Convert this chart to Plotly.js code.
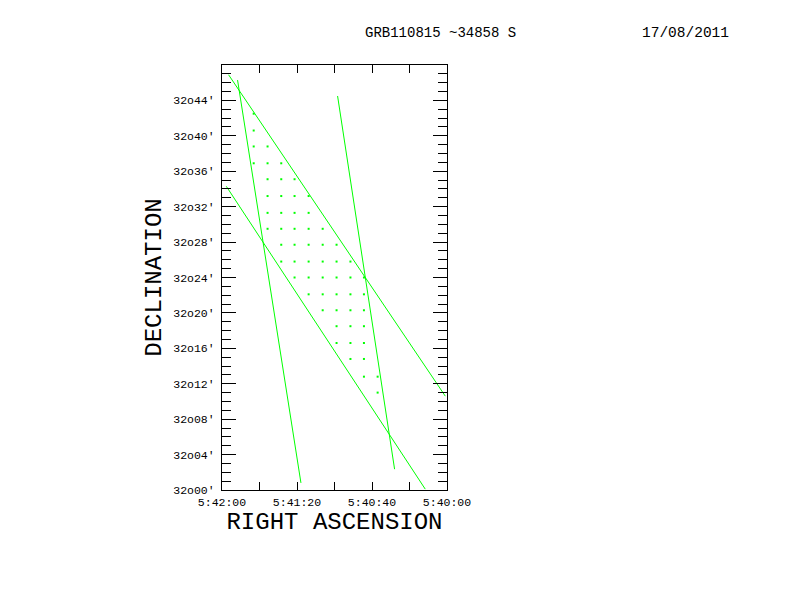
<!DOCTYPE html>
<html>
<head>
<meta charset="utf-8">
<script src="https://cdn.plot.ly/plotly-3.0.1.min.js"></script>
<style>html,body{margin:0;padding:0;background:#fff;}#chart{width:792px;height:612px;}</style>
</head>
<body>
<div id="chart"></div>
<script>
// RA expressed in seconds of time (5h42m00s = 20520 s), Dec in arcmin above 32°00'
const lineA_ra = [20511.7, 20477.9];
const lineA_dec = [46.3, 0.8];
const lineB_ra = [20458.35, 20427.95];
const lineB_dec = [44.5, 2.35];
const lineC_ra = [20516.5, 20400.9];
const lineC_dec = [46.9, 10.6];
const lineD_ra = [20517.7, 20411.6];
const lineD_dec = [34.3, 0.1];

const dotRA = [
  20503.1,
  20503.1,
  20503.1, 20495.7,
  20503.1, 20495.7, 20488.4,
  20495.7, 20488.4, 20481.3,
  20495.7, 20488.4, 20481.3, 20473.8,
  20495.7, 20488.4, 20481.3, 20473.8,
  20495.7, 20488.4, 20481.3, 20473.8, 20466.3,
  20488.4, 20481.3, 20473.8, 20466.3, 20458.9,
  20488.4, 20481.3, 20473.8, 20466.3, 20458.9, 20451.5,
  20481.3, 20473.8, 20466.3, 20458.9, 20451.5, 20444.3,
  20473.8, 20466.3, 20458.9, 20451.5, 20444.3,
  20466.3, 20458.9, 20451.5, 20444.3,
  20458.9, 20451.5, 20444.3,
  20458.9, 20451.5, 20444.3,
  20451.5, 20444.3,
  20444.3, 20437.0,
  20437.0
];
const dotDec = [
  42.5,
  40.6,
  38.8, 38.8,
  36.9, 36.9, 36.9,
  35.1, 35.1, 35.1,
  33.2, 33.2, 33.2, 33.2,
  31.3, 31.3, 31.3, 31.3,
  29.5, 29.5, 29.5, 29.5, 29.5,
  27.7, 27.7, 27.7, 27.7, 27.7,
  25.8, 25.8, 25.8, 25.8, 25.8, 25.8,
  24.0, 24.0, 24.0, 24.0, 24.0, 24.0,
  22.1, 22.1, 22.1, 22.1, 22.1,
  20.3, 20.3, 20.3, 20.3,
  18.5, 18.5, 18.5,
  16.6, 16.6, 16.6,
  14.8, 14.8,
  12.8, 12.8,
  11.0
];

const xTickVals = [20520, 20500, 20480, 20460, 20440, 20420, 20400];
const xTickText = ['5:42:00', '', '5:41:20', '', '5:40:40', '', '5:40:00'];
const yTickVals = [0, 4, 8, 12, 16, 20, 24, 28, 32, 36, 40, 44];
const yTickText = ["32o00′", "32o04′", "32o08′", "32o12′", "32o16′", "32o20′", "32o24′", "32o28′", "32o32′", "32o36′", "32o40′", "32o44′"];

const green = '#00ff00';
const font = 'Liberation Mono, DejaVu Sans Mono, monospace';

function lineTrace(x, y) {
  return {x: x, y: y, type: 'scatter', mode: 'lines', line: {color: green, width: 1}, hoverinfo: 'skip', showlegend: false};
}

const traces = [
  lineTrace(lineA_ra, lineA_dec),
  lineTrace(lineB_ra, lineB_dec),
  lineTrace(lineC_ra, lineC_dec),
  lineTrace(lineD_ra, lineD_dec),
  {x: dotRA, y: dotDec, type: 'scatter', mode: 'markers',
   marker: {color: green, size: 2, symbol: 'square', line: {width: 0}}, showlegend: false}
];

const layout = {
  width: 792, height: 612,
  paper_bgcolor: '#ffffff', plot_bgcolor: '#ffffff',
  margin: {l: 222, r: 345, t: 65, b: 122, pad: 0},
  showlegend: false,
  font: {family: font, color: '#000'},
  xaxis: {
    range: [20520, 20400],
    tickmode: 'array', tickvals: xTickVals, ticktext: xTickText,
    ticks: 'inside', ticklen: 8, tickwidth: 1, tickcolor: '#000',
    ticklabelstandoff: 1,
    showline: true, linecolor: '#000', linewidth: 1, mirror: 'allticks',
    showgrid: false, zeroline: false,
    tickfont: {family: font, size: 11.5, color: '#000'},
    title: {text: 'RIGHT ASCENSION', font: {family: font, size: 24, color: '#000'}, standoff: 0}
  },
  yaxis: {
    range: [0, 48],
    tickmode: 'array', tickvals: yTickVals, ticktext: yTickText,
    ticks: 'inside', ticklen: 14, tickwidth: 1, tickcolor: '#000',
    ticklabelstandoff: 4,
    minor: {dtick: 1, tick0: 0, ticks: 'inside', ticklen: 9, tickwidth: 1, tickcolor: '#000', showgrid: false},
    showline: true, linecolor: '#000', linewidth: 1, mirror: 'allticks',
    showgrid: false, zeroline: false,
    tickfont: {family: font, size: 11.5, color: '#000'},
    title: {text: 'DECLINATION', font: {family: font, size: 24, color: '#000'}, standoff: 4}
  },
  annotations: [
    {text: 'GRB110815 ~34858 S', xref: 'paper', yref: 'paper', x: (440 - 222) / 225, y: 1 + (65 - 33) / 425,
     xanchor: 'center', yanchor: 'middle', showarrow: false, font: {family: font, size: 14, color: '#000'}},
    {text: '17/08/2011', xref: 'paper', yref: 'paper', x: (685 - 222) / 225, y: 1 + (65 - 33) / 425,
     xanchor: 'center', yanchor: 'middle', showarrow: false, font: {family: font, size: 14.5, color: '#000'}}
  ]
};

Plotly.newPlot('chart', traces, layout, {displayModeBar: false, staticPlot: true});
</script>
</body>
</html>
